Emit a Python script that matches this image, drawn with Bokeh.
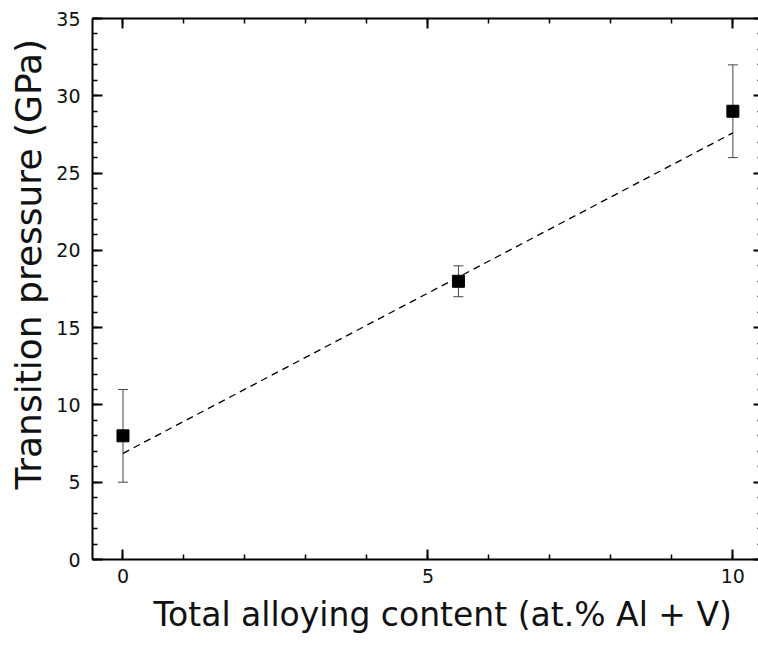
from bokeh.plotting import figure
from bokeh.models import (ColumnDataSource, Whisker, TeeHead, LinearAxis, SingleIntervalTicker,
                          Range1d, Title)
from bokeh.embed import file_html
from bokeh.resources import INLINE

# ---- data ----
alloy_content = [0.0, 5.5, 10.0]          # at.% Al + V
transition_pressure = [8.0, 18.0, 29.0]   # GPa
pressure_error = [3.0, 1.0, 3.0]          # GPa
fit_x = [0.0, 10.0]
fit_y = [6.87, 27.6]

x_title = "Total alloying content (at.% Al + V)"
y_title = "Transition pressure (GPa)"

FONT = "DejaVu Sans"

src = ColumnDataSource(data=dict(
    x=alloy_content,
    y=transition_pressure,
    lower=[v - e for v, e in zip(transition_pressure, pressure_error)],
    upper=[v + e for v, e in zip(transition_pressure, pressure_error)],
))

p = figure(width=758, height=645, output_backend="svg", toolbar_location=None,
           x_range=Range1d(-0.5, 10.42), y_range=Range1d(0, 35),
           min_border_left=91, min_border_top=18, min_border_right=0, min_border_bottom=86,
           x_axis_type=None, y_axis_type=None)
p.grid.visible = False
p.outline_line_color = None
p.background_fill_color = "white"
p.border_fill_color = "white"

def make_axis(show_labels, tick_in=10, minor_in=5, line=True):
    ax = LinearAxis(ticker=SingleIntervalTicker(interval=5, num_minor_ticks=5))
    ax.major_tick_in = tick_in
    ax.major_tick_out = 0
    ax.minor_tick_in = minor_in
    ax.minor_tick_out = 0
    ax.major_tick_line_width = 2
    ax.minor_tick_line_width = 1.5
    ax.major_tick_line_color = "black"
    ax.minor_tick_line_color = "black"
    ax.axis_line_width = 2
    ax.axis_line_color = "black" if line else None
    if show_labels:
        ax.major_label_text_font = FONT
        ax.major_label_text_font_size = "19px"
        ax.major_label_text_color = "#111111"
    else:
        ax.major_label_text_font_size = "0px"
        ax.major_label_text_color = None
        ax.major_label_standoff = 0
    return ax

xb = make_axis(True)
xb.major_label_standoff = 9
p.add_layout(xb, "below")
yl = make_axis(True)
yl.major_label_standoff = 12
p.add_layout(yl, "left")
p.add_layout(make_axis(False), "above")
p.add_layout(make_axis(False, tick_in=5, minor_in=1, line=False), "right")

# fit line
p.line(fit_x, fit_y, line_color="black", line_width=1.3, line_dash="7 5")

# error bars
w = Whisker(source=src, base="x", lower="lower", upper="upper",
            line_color="#444444", line_width=1,
            upper_head=TeeHead(size=10, line_color="#444444", line_width=1),
            lower_head=TeeHead(size=10, line_color="#444444", line_width=1))
p.add_layout(w)

# markers
p.scatter("x", "y", source=src, marker="square", size=12, fill_color="black", line_color="black")

# axis titles
p.add_layout(Title(text=x_title, align="left", offset=61, standoff=15,
                   text_font=FONT, text_font_size="33px", text_font_style="normal",
                   text_color="#111111"), "below")
p.add_layout(Title(text=y_title, align="left", offset=70, standoff=10,
                   text_font=FONT, text_font_size="36px", text_font_style="normal",
                   text_color="#111111"), "left")

open("out.html", "w").write(file_html(p, INLINE))
